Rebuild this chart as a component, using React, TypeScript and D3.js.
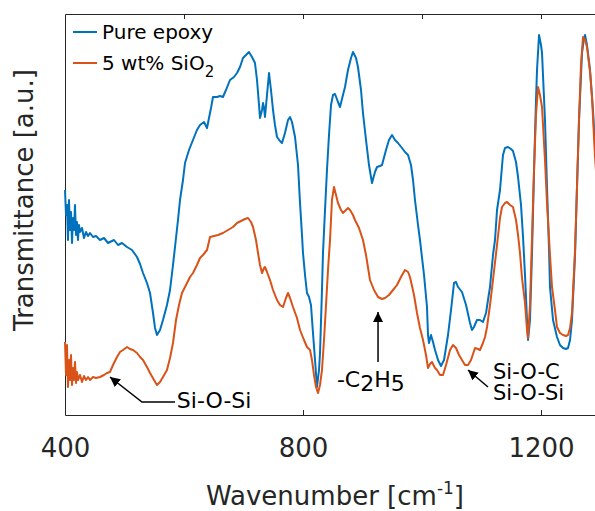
import * as d3 from 'd3';
import { useEffect, useRef } from 'react';

// wavenumber [cm^-1] and transmittance [a.u.]
const pureWn = [400, 401.7, 403.4, 405, 406.7, 408.4, 410.1, 411.8, 413.4, 415.1, 416.8, 418.5, 420.2, 421.8, 423.5, 425.2, 428.6, 431.9, 435.3, 438.7, 442, 447.1, 452.1, 458.8, 465.5, 472.3, 475.6, 482.4, 489.1, 495.8, 504.2, 512.6, 521, 526.1, 531.1, 537.8, 542.9, 547.9, 551.3, 554.6, 559.7, 564.7, 571.4, 576.5, 581.5, 584.9, 589.9, 593.3, 598.3, 601.7, 608.4, 615.1, 621.8, 626.9, 633.6, 638.7, 642, 645.4, 648.7, 655.5, 660.5, 665.5, 670.6, 677.3, 684, 689.1, 694.1, 699.2, 704.2, 709.2, 714.3, 719.3, 722.7, 726.1, 727.7, 731.1, 732.8, 734.5, 736.1, 739.5, 742.9, 746.2, 749.6, 752.9, 756.3, 761.3, 764.7, 769.7, 774.8, 778.2, 781.5, 786.6, 791.6, 795, 798.3, 800, 803.4, 806.7, 810.1, 813.4, 816.8, 820.2, 823.5, 826.9, 828.6, 831.9, 833.6, 837, 840.3, 843.7, 847.1, 850.4, 853.8, 858.8, 862.2, 867.2, 870.6, 875.6, 880.7, 884, 889.1, 892.4, 897.5, 900.8, 905.9, 910.9, 916, 921, 924.4, 929.4, 932.8, 939.5, 944.5, 949.6, 954.6, 959.7, 966.4, 971.4, 976.5, 981.5, 984.9, 988.2, 993.3, 996.6, 1003.4, 1008.4, 1010.1, 1011.8, 1015.1, 1018.5, 1021.9, 1026.9, 1031.9, 1037, 1043.7, 1048.8, 1053.8, 1057.2, 1060.5, 1067.2, 1074, 1080.7, 1084.1, 1087.4, 1092.4, 1097.5, 1102.5, 1107.6, 1110.9, 1114.3, 1119.3, 1122.7, 1126.1, 1131.1, 1136.1, 1139.5, 1144.5, 1149.6, 1152.9, 1158, 1161.4, 1166.4, 1169.8, 1173.1, 1176.5, 1178.2, 1181.5, 1184.9, 1188.3, 1191.6, 1193.3, 1196.7, 1200, 1201.7, 1206.7, 1210.1, 1213.5, 1215.1, 1220.2, 1226.9, 1231.9, 1237, 1242, 1245.4, 1248.8, 1252.1, 1257.2, 1260.5, 1263.9, 1268.9, 1272.3, 1274, 1277.3, 1282.4, 1287.4, 1290.8, 1299.2];
const pureT = [225, 200, 210, 175, 215, 185, 203, 172, 197, 185, 210, 180, 193, 175, 190, 183, 187, 177, 183, 179, 182, 178, 179, 175, 177, 172, 173, 175, 170, 172, 168, 165, 158, 151, 142, 132, 122, 102, 87, 80, 85, 95, 110, 125, 150, 168, 195, 215, 235, 252, 265, 275, 285, 290, 293, 287, 297, 307, 318, 318, 319, 318, 325, 335, 338, 342, 348, 357, 360, 363, 358, 352, 335, 310, 297, 305, 312, 307, 298, 320, 342, 325, 305, 290, 278, 274, 272, 282, 295, 298, 293, 278, 250, 212, 180, 162, 140, 122, 118, 110, 82, 55, 28, 45, 62, 125, 162, 205, 245, 280, 310, 320, 321, 313, 308, 320, 328, 345, 357, 363, 357, 348, 325, 302, 275, 250, 232, 243, 248, 249, 250, 265, 275, 280, 275, 272, 267, 263, 260, 250, 235, 215, 190, 175, 140, 108, 80, 72, 80, 73, 65, 55, 49, 55, 80, 105, 132, 133, 128, 123, 110, 92, 85, 88, 95, 95, 93, 102, 115, 128, 160, 175, 205, 225, 260, 267, 268, 266, 264, 253, 238, 210, 178, 140, 95, 75, 95, 162, 245, 315, 345, 380, 370, 362, 295, 228, 165, 128, 95, 78, 70, 67, 66, 67, 75, 95, 160, 228, 295, 362, 377, 380, 370, 345, 305, 268, 215];

const sio2Wn = [400, 401.7, 403.4, 405, 406.7, 408.4, 410.1, 411.8, 413.4, 415.1, 416.8, 418.5, 420.2, 421.8, 425.2, 428.6, 431.9, 435.3, 438.7, 442, 447.1, 452.1, 458.8, 465.5, 470.6, 475.6, 480.7, 487.4, 492.4, 497.5, 504.2, 509.2, 514.3, 521, 526.1, 531.1, 537.8, 542.9, 549.6, 554.6, 559.7, 564.7, 571.4, 576.5, 581.5, 586.6, 591.6, 596.6, 603.4, 610.1, 615.1, 621.8, 626.9, 631.9, 638.7, 643.7, 650.4, 657.1, 665.5, 674, 682.4, 689.1, 695.8, 702.5, 707.6, 712.6, 716, 721, 724.4, 727.7, 731.1, 734.5, 736.1, 739.5, 744.5, 749.6, 756.3, 761.3, 766.4, 771.4, 774.8, 778.2, 783.2, 789.9, 795, 801.7, 806.7, 811.8, 815.1, 818.5, 821.9, 825.2, 828.6, 831.9, 835.3, 838.7, 842, 845.4, 848.7, 852.1, 855.5, 858.8, 863.9, 867.2, 872.3, 875.6, 879, 884, 887.4, 894.1, 900.8, 905.9, 912.6, 919.3, 926.1, 932.8, 937.8, 944.5, 951.3, 958, 964.7, 971.4, 976.5, 979.8, 986.6, 991.6, 996.6, 1001.7, 1006.7, 1010.1, 1013.5, 1016.8, 1021.9, 1025.2, 1030.3, 1035.3, 1040.4, 1047.1, 1052.1, 1057.2, 1062.2, 1067.2, 1072.3, 1077.3, 1082.4, 1089.1, 1094.1, 1097.5, 1102.5, 1105.9, 1109.3, 1114.3, 1119.3, 1126.1, 1131.1, 1134.5, 1139.5, 1142.9, 1147.9, 1152.9, 1158, 1161.4, 1164.7, 1168.1, 1173.1, 1176.5, 1178.2, 1181.5, 1184.9, 1188.3, 1191.6, 1195, 1198.3, 1201.7, 1206.7, 1210.1, 1215.1, 1218.5, 1223.5, 1226.9, 1231.9, 1237, 1242, 1245.4, 1248.8, 1252.1, 1257.2, 1260.5, 1263.9, 1267.2, 1270.6, 1274, 1277.3, 1282.4, 1285.7, 1290.8, 1299.2];
const sio2T = [73, 40, 70, 28, 55, 35, 60, 30, 47, 35, 53, 32, 43, 35, 40, 33, 39, 35, 38, 35, 38, 37, 38, 40, 42, 43, 50, 58, 63, 65, 68, 66, 65, 62, 58, 55, 48, 42, 35, 30, 33, 38, 45, 57, 72, 95, 110, 122, 130, 138, 142, 150, 157, 160, 165, 178, 179, 180, 182, 185, 188, 192, 194, 196, 197, 193, 188, 175, 162, 150, 142, 147, 148, 143, 135, 125, 115, 110, 108, 117, 122, 117, 108, 97, 85, 75, 68, 65, 55, 40, 28, 22, 30, 45, 75, 110, 145, 175, 215, 228, 220, 212, 205, 202, 205, 207, 205, 200, 195, 187, 175, 160, 135, 125, 118, 116, 117, 120, 125, 130, 138, 145, 143, 138, 120, 102, 87, 75, 60, 47, 51, 53, 47, 45, 40, 40, 50, 65, 70, 67, 60, 55, 50, 50, 55, 67, 66, 65, 72, 78, 88, 110, 135, 170, 197, 208, 212, 213, 210, 208, 195, 180, 162, 137, 112, 85, 77, 110, 178, 245, 300, 328, 320, 308, 255, 212, 160, 128, 105, 88, 82, 80, 79, 80, 87, 102, 165, 228, 295, 350, 378, 375, 368, 343, 318, 258, 185];

const seriesNames = ['Pure epoxy', '5 wt% SiO'];
const seriesColors = ['#0072BD', '#D95319'];

const xTopTicks = [600, 800, 1000, 1200];
const xLabelTicks = [400, 800, 1200];

// annotation anchors in data units [wavenumber, transmittance]
const siosiArrow = [[584.9, 13], [529.4, 13], [475.6, 38]];
const c2h5Arrow = [[926.1, 53], [926.1, 103]];
const siocArrow = [[1110.9, 28], [1077.3, 45]];

export default function App() {
  const ref = useRef(null);

  useEffect(() => {
    document.body.style.margin = '0';
    const width = 595;
    const height = 511;
    const svg = d3.select(ref.current);
    svg.selectAll('*').remove();
    svg.attr('width', width).attr('height', height)
      .style('display', 'block')
      .style('font-family', '"DejaVu Sans", Verdana, sans-serif');

    const x = d3.scaleLinear().domain([400, 1300]).range([65, 600.5]);
    const y = d3.scaleLinear().domain([0, 401]).range([415, 14]);
    const axisColor = '#262626';

    svg.append('defs').append('marker')
      .attr('id', 'arrowhead')
      .attr('viewBox', '0 0 10 10')
      .attr('refX', 10).attr('refY', 5)
      .attr('markerWidth', 10).attr('markerHeight', 10)
      .attr('markerUnits', 'userSpaceOnUse')
      .attr('orient', 'auto')
      .append('path').attr('d', 'M0,0L10,5L0,10Z').attr('fill', '#000');

    // axes box (right side falls outside the picture)
    const bottom = svg.append('g').attr('transform', `translate(0,${y(0)})`)
      .call(d3.axisBottom(x).tickValues(xLabelTicks).tickSize(-5).tickSizeOuter(0)
        .tickPadding(24).tickFormat(d3.format('d')));
    bottom.select('.domain').attr('stroke', axisColor);
    bottom.selectAll('line').attr('stroke', axisColor);
    bottom.selectAll('text').attr('fill', axisColor).style('font-size', '26px')
      .style('font-family', '"DejaVu Sans", Verdana, sans-serif');

    const top = svg.append('g').attr('transform', `translate(0,${y(401)})`)
      .call(d3.axisTop(x).tickValues(xTopTicks).tickSize(-5).tickSizeOuter(0).tickFormat(() => ''));
    top.select('.domain').attr('stroke', axisColor);
    top.selectAll('line').attr('stroke', axisColor);

    const left = svg.append('g').attr('transform', `translate(${x(400)},0)`)
      .call(d3.axisLeft(y).tickValues([]).tickSizeOuter(0));
    left.select('.domain').attr('stroke', axisColor);

    // spectra
    const line = d3.line().x(d => x(d[0])).y(d => y(d[1]));
    const series = [
      d3.zip(pureWn, pureT),
      d3.zip(sio2Wn, sio2T),
    ];
    series.forEach((pts, i) => {
      svg.append('path')
        .datum(pts)
        .attr('d', line)
        .attr('fill', 'none')
        .attr('stroke', seriesColors[i])
        .attr('stroke-width', 2)
        .attr('stroke-linejoin', 'round');
    });

    // axis labels
    const xl = svg.append('text')
      .attr('x', 335).attr('y', 505)
      .attr('text-anchor', 'middle')
      .attr('fill', axisColor)
      .style('font-size', '26px');
    xl.append('tspan').text('Wavenumber [cm');
    xl.append('tspan').text('-1').attr('dy', -11).style('font-size', '17px');
    xl.append('tspan').text(']').attr('dy', 11);

    svg.append('text')
      .attr('transform', 'translate(33,200) rotate(-90)')
      .attr('text-anchor', 'middle')
      .attr('fill', axisColor)
      .style('font-size', '26px')
      .text('Transmittance [a.u.]');

    // legend
    seriesNames.forEach((name, i) => {
      const ly = 32 + i * 31;
      svg.append('line')
        .attr('x1', 73).attr('x2', 97)
        .attr('y1', ly).attr('y2', ly)
        .attr('stroke', seriesColors[i])
        .attr('stroke-width', 2);
      const t = svg.append('text')
        .attr('x', 102).attr('y', ly + 7)
        .attr('fill', '#000')
        .style('font-size', '20px');
      t.append('tspan').text(name);
      if (i === 1) {
        t.append('tspan').text('2').attr('dy', 7).style('font-size', '15px');
      }
    });

    // annotations
    const pathLine = d3.line().x(d => x(d[0])).y(d => y(d[1]));
    [siosiArrow, c2h5Arrow, siocArrow].forEach(pts => {
      svg.append('path')
        .datum(pts)
        .attr('d', pathLine)
        .attr('fill', 'none')
        .attr('stroke', '#000')
        .attr('stroke-width', 1.5)
        .attr('marker-end', 'url(#arrowhead)');
    });

    svg.append('text')
      .attr('x', x(588)).attr('y', y(15) + 8)
      .style('font-size', '22px')
      .text('Si-O-Si');

    const c2 = svg.append('text')
      .attr('x', x(914)).attr('y', y(34) + 6)
      .attr('text-anchor', 'middle')
      .style('font-size', '22px');
    c2.append('tspan').text('-C');
    c2.append('tspan').text('2').attr('dy', 4);
    c2.append('tspan').text('H').attr('dy', -4);
    c2.append('tspan').text('5').attr('dy', 4);

    // two-line label kept as one text block
    const sioc = svg.append('text')
      .attr('x', x(1119.3)).attr('y', y(43) + 7)
      .style('font-size', '21px');
    sioc.append('tspan').text('Si-O-C');
    sioc.append('tspan').attr('x', x(1119.3)).attr('dy', 21).text('Si-O-Si');

    return () => {
      svg.selectAll('*').remove();
    };
  }, []);

  return <svg ref={ref} />;
}
